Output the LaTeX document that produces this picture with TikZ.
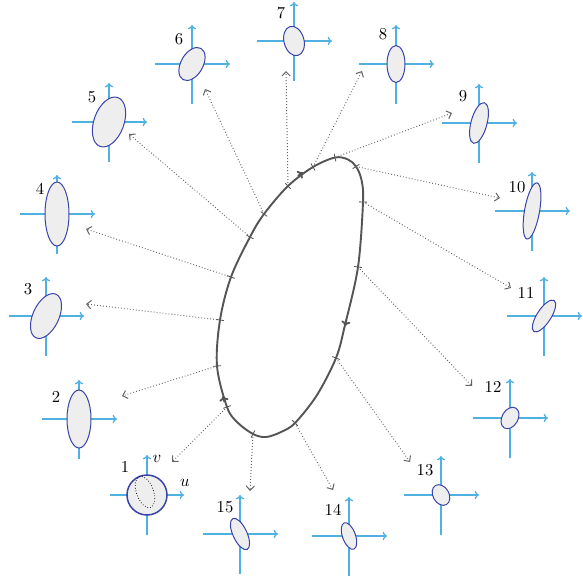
\documentclass[tikz,border=0pt]{standalone}
\usetikzlibrary{calc,arrows.meta}
\definecolor{axisblue}{RGB}{80,176,224}
\definecolor{ellblue}{RGB}{58,68,168}
\definecolor{ellfill}{RGB}{238,238,238}
\definecolor{loopgray}{RGB}{85,85,85}
\definecolor{conngray}{RGB}{100,100,100}
\newcommand\glyphdraw[6]{%
  \coordinate (g#1) at (#2,#3);
  \draw[axisline] ($(g#1)+(-37,0)$) -- ($(g#1)+(38,0)$);
  \draw[axisline] ($(g#1)+(0,40)$) -- ($(g#1)+(0,-39)$);
  \draw[ellshape, rotate around={#6:(g#1)}] (g#1) ellipse [x radius=#4, y radius=#5];
}
\begin{document}
\begin{tikzpicture}[x=0.6pt,y=-0.6pt,
  axisline/.style={draw=axisblue, line width=0.8pt, -{To[length=2.6pt,width=5pt]}},
  ellshape/.style={draw=ellblue, fill=ellfill, line width=0.6pt},
  loopline/.style={draw=loopgray, line width=1.15pt},
  tickline/.style={draw=loopgray, line width=0.5pt},
  conn/.style={draw=conngray, line width=0.6pt, dash pattern=on 0.5pt off 1.3pt, -{Straight Barb[length=2.6pt,width=5pt]}},
  lbl/.style={inner sep=0pt},
  loopmark/.style={draw=loopgray, line width=1.1pt, -{To[length=3pt,width=5.5pt]}}]
\useasboundingbox (0,0) rectangle (583,579);

% glyph 1
\coordinate (g1) at (147,495);
\draw[axisline] ($(g1)+(-37,0)$) -- ($(g1)+(37,0)$);
\draw[axisline] ($(g1)+(0,40)$) -- ($(g1)+(0,-40)$);
\draw[draw=ellblue, fill=ellfill, line width=0.9pt] (g1) circle [radius=20];
\draw[black, line width=0.5pt, dash pattern=on 0.4pt off 1.2pt, rotate around={110:(145,492)}] (145,492) ellipse [x radius=16.5, y radius=8.5];
\node[lbl] (uu) at (185,483) {$u$};
\node[lbl] (vv) at (157,459) {$v$};

\glyphdraw{2}{79}{419}{29}{12}{90}
\glyphdraw{3}{46}{316}{24}{13}{65}
\glyphdraw{4}{57}{214}{32}{12}{90}
\glyphdraw{5}{109}{122}{26}{15}{70}
\glyphdraw{6}{192}{64}{18}{11}{60}
\glyphdraw{7}{294}{41}{15}{10}{105}
\glyphdraw{8}{396}{64}{18.5}{9}{90}
\glyphdraw{9}{479}{123}{21}{8}{75}
\glyphdraw{10}{532}{211}{28.5}{7.5}{80}
\glyphdraw{11}{544}{316}{18.5}{7}{57}
\glyphdraw{12}{510}{418}{11.5}{8}{60}
\glyphdraw{13}{441}{495}{11}{8}{120}
\glyphdraw{14}{349}{536}{14}{6.5}{110}
\glyphdraw{15}{240}{534}{17}{7}{115}

\node[lbl] (l1) at (125,467) {1};
\node[lbl] (l2) at (56,397) {2};
\node[lbl] (l3) at (28,289) {3};
\node[lbl] (l4) at (40,189) {4};
\node[lbl] (l5) at (92,97) {5};
\node[lbl] (l6) at (179,39) {6};
\node[lbl] (l7) at (281,13) {7};
\node[lbl] (l8) at (383,34) {8};
\node[lbl] (l9) at (463,96) {9};
\node[lbl] (l10) at (517,187) {10};
\node[lbl] (l11) at (526,293) {11};
\node[lbl] (l12) at (493,387) {12};
\node[lbl] (l13) at (425,470) {13};
\node[lbl] (l14) at (333,510) {14};
\node[lbl] (l15) at (225,507) {15};

% loop points
\coordinate (q2) at (266,437);
\coordinate (t7) at (253,434);
\coordinate (q1) at (237,422);
\coordinate (t8) at (227,407);
\coordinate (t9) at (217,366);
\coordinate (t10) at (220,320);
\coordinate (t11) at (231,277);
\coordinate (t12) at (250,237);
\coordinate (t13) at (264,214);
\coordinate (t14) at (288,186);
\coordinate (t15) at (313,167);
\coordinate (t1) at (335,157.5);
\coordinate (s2) at (348,159.5);
\coordinate (t2) at (356,166.5);
\coordinate (s1) at (361.5,180);
\coordinate (t3) at (363,202);
\coordinate (t4) at (358,267);
\coordinate (r2) at (345,325);
\coordinate (t5) at (336,358);
\coordinate (r3) at (317,395);
\coordinate (t6) at (295,423);
\coordinate (q3) at (281,432);

\draw[loopline] plot[smooth cycle, tension=0.55] coordinates {(q2) (t7) (q1) (t8) (t9) (t10) (t11) (t12) (t13) (t14) (t15) (t1) (s2) (t2) (s1) (t3) (t4) (r2) (t5) (r3) (t6) (q3)};

\foreach \p/\c/\n in {q1/t7/q2, t9/t8/q1, t8/t9/t10, t9/t10/t11, t10/t11/t12, t11/t12/t13, t12/t13/t14, t13/t14/t15, t14/t15/t1, t15/t1/s2, s2/t2/s1, s1/t3/t4, t3/t4/r2, r2/t5/r3, r3/t6/q3}{
  \coordinate (dd) at ($(\p)!2.4pt!90:(\n)$);
  \draw[tickline] ($(\c)+(dd)-(\p)$) -- ($(\c)-(dd)+(\p)$);
}

% direction marks on the loop
\coordinate (m1a) at (298,176);
\coordinate (m1b) at (303,172.3);
\coordinate (m2a) at (346.3,320);
\coordinate (m2b) at (345,326);
\coordinate (m3a) at (224.4,402);
\coordinate (m3b) at (223,396);
\draw[loopmark] (m1a) -- (m1b);
\draw[loopmark] (m2a) -- (m2b);
\draw[loopmark] (m3a) -- (m3b);

% connector ends
\coordinate (e1) at (172,462);
\coordinate (e2) at (122,396);
\coordinate (e3) at (86,304);
\coordinate (e4) at (86,229);
\coordinate (e5) at (129,134);
\coordinate (e6) at (205,89);
\coordinate (e7) at (286,71);
\coordinate (e8) at (362,71);
\coordinate (e9) at (452,113);
\coordinate (e10) at (500,198);
\coordinate (e11) at (511,288);
\coordinate (e12) at (472,386);
\coordinate (e13) at (410,462);
\coordinate (e14) at (333,490);
\coordinate (e15) at (250,491);

\draw[conn] (t8) -- (e1);
\draw[conn] (t9) -- (e2);
\draw[conn] (t10) -- (e3);
\draw[conn] (t11) -- (e4);
\draw[conn] (t12) -- (e5);
\draw[conn] (t13) -- (e6);
\draw[conn] (t14) -- (e7);
\draw[conn] (t15) -- (e8);
\draw[conn] (t1) -- (e9);
\draw[conn] (t2) -- (e10);
\draw[conn] (t3) -- (e11);
\draw[conn] (t4) -- (e12);
\draw[conn] (t5) -- (e13);
\draw[conn] (t6) -- (e14);
\draw[conn] (t7) -- (e15);
\end{tikzpicture}
\end{document}
